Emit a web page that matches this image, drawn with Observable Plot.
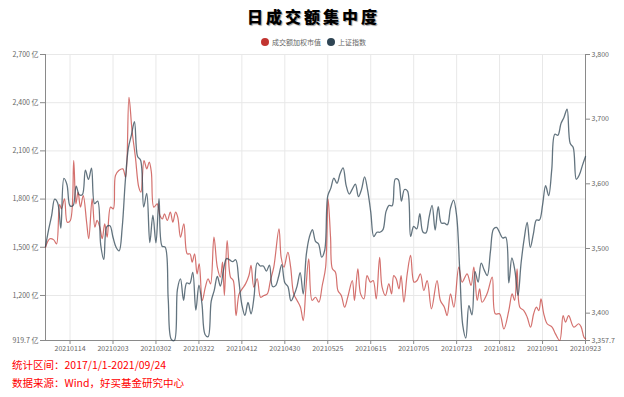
<!DOCTYPE html>
<html><head><meta charset="utf-8">
<script src="https://cdn.jsdelivr.net/npm/d3@7"></script>
<script src="https://cdn.jsdelivr.net/npm/@observablehq/plot@0.6"></script>
<style>
body{margin:0;background:#fff;font-family:"Noto Sans CJK SC","Noto Sans",sans-serif;}
#wrap{position:relative;width:624px;height:397px;overflow:hidden;background:#fff;}
#chart{position:absolute;left:0;top:0;}
#title{position:absolute;left:0;width:624px;top:4px;text-align:center;font-size:16px;font-weight:900;letter-spacing:3px;padding-left:3px;box-sizing:border-box;color:#000;text-shadow:1px 1px 1px #999;line-height:24px;}
.lg{position:absolute;top:37px;font-size:7px;color:#666;line-height:11px;white-space:nowrap;}
.dot{display:inline-block;width:8px;height:8px;border-radius:50%;vertical-align:middle;margin-right:3px;position:relative;top:-1px;}
.foot{position:absolute;left:12px;font-size:10.5px;color:#f00;white-space:nowrap;line-height:14px;}
</style></head>
<body>
<div id="wrap">
  <div id="chart"></div>
  <div id="title"></div>
  <div id="lg1" class="lg" style="left:261px"></div>
  <div id="lg2" class="lg" style="left:327px"></div>
  <div class="foot" id="f1" style="top:358px"></div>
  <div class="foot" id="f2" style="top:376px"></div>
</div>
<script>
// ---- data ----
const titleText = "日成交额集中度";
const seriesNames = ["成交额加权市值", "上证指数"];
const seriesColors = ["#c23531", "#2f4554"];
const footLines = ["统计区间：2017/1/1-2021/09/24", "数据来源：Wind，好买基金研究中心"];

// x tick labels (trading-day index positions on the category axis)
const xTickPos = [8, 22, 36, 50, 64, 78, 92, 106, 120, 134, 148, 162, 176];
const xTickLabels = ["20210114","20210203","20210302","20210322","20210412","20210430","20210525","20210615","20210705","20210723","20210812","20210901","20210923"];

// left axis (亿) and right axis (index points)
const leftTicks = [919.7, 1200, 1500, 1800, 2100, 2400, 2700];
const rightTicks = [3357.7, 3400, 3500, 3600, 3700, 3800];

// 上证指数 daily closes (trading-day index 0 = 20210104)
const shIndex = [
3502.96,3528.68,3550.88,3576.20,3570.11,3531.50,3608.34,3598.65,3565.90,3566.38,3596.22,3583.09,3583.09,3621.26,3606.75,3624.24,3569.43,3573.34,3505.18,3483.07,
3533.68,3535.09,3517.31,3501.86,3496.33,3532.44,3603.49,3655.09,3675.36,3696.17,3642.44,3636.36,3564.08,3585.05,3509.08,
3551.40,3508.59,3576.90,3503.49,3501.99,3421.41,3359.29,3357.74,3436.83,3453.08,3419.95,3446.73,3445.55,3463.07,3404.66,3443.44,3414.01,3367.06,3363.59,3418.33,3435.30,3456.68,3441.91,
3466.33,3484.39,3482.48,3479.63,3482.55,3450.68,3412.95,3396.47,3416.50,3398.99,3426.62,3477.55,3472.94,3472.94,3465.11,3474.17,3441.17,3442.61,3457.07,3474.90,3446.86,
3441.28,3418.87,3427.99,3441.85,3462.75,3429.54,3490.38,3517.62,3529.01,3510.96,3506.94,3486.56,3497.28,3581.34,3593.36,3608.85,3600.78,3615.48,
3624.71,3597.14,3584.22,3591.84,3599.54,3580.11,3591.40,3610.86,3589.75,3556.56,3518.33,3525.10,3525.10,3529.18,3557.41,3566.65,3566.22,3607.56,3606.37,3573.18,3591.20,
3588.78,3518.76,3534.32,3530.26,3553.72,3525.50,3524.09,3547.84,3566.59,3528.50,3564.59,3539.30,3539.12,3536.79,3562.50,3574.73,3550.40,3467.44,3381.18,3361.59,3411.72,3397.36,
3464.29,3447.99,3477.22,3466.56,3458.23,3494.63,3529.93,3532.62,3524.74,3516.30,3517.35,3446.98,3485.29,3465.55,3427.33,3477.13,3514.47,3540.38,3501.66,3522.16,3543.94,3543.94,
3567.10,3597.04,3581.73,3621.86,3676.59,3675.19,3693.13,3703.11,3715.37,3662.60,3656.22,3607.09,3613.97,3628.49,3642.22
];

// 成交额加权市值 (亿): read-off points, position on trading-day axis and value
const wcapPos = [0,1.4,2.7,3.6,4.6,5.2,6.2,7.1,8.1,9.2,9.9,10.6,11.4,12.3,13.4,14.1,15.2,16.1,16.8,17.7,18.5,19.3,20.1,21.2,22.1,22.8,23.9,25.2,26.1,27.2,28.2,29.3,30.4,31.1,32.1,33,33.8,34.5,35.3,36.4,37.3,38.1,38.8,39.7,40.7,41.5,42.4,43.1,44,45.1,46.2,47.1,47.8,48.6,49.4,50.1,51.1,52.1,53,53.8,54.9,56,57,57.7,58.3,59.2,60.3,61.2,62.1,63.1,64.1,65.2,66.3,67,67.9,69,70.1,71.2,72.3,73.3,74.4,76.1,76.8,77.7,79,79.9,80.9,82,83.1,84,84.9,85.8,86.9,88,89.1,90.2,91.3,92.1,92.9,93.5,94.5,95.3,96.4,97.5,98.5,100,100.7,101.8,102.7,103.8,104.8,105.9,106.8,107.8,108.9,109.7,110.8,111.9,112.8,113.5,114.3,115.2,115.9,116.8,117.9,119,120.1,121.1,122.2,123.3,124.4,125.8,127.6,128.7,130,130.9,132,133.1,134.7,135.8,137.4,138.7,139.6,140.7,141.5,142.3,143.9,145.6,146.6,148,149.4,151,152.1,152.9,153.7,154.6,155.9,157,158.1,159.1,160,160.8,161.5,162.4,163.5,165.1,166.2,167.6,168.7,169.5,170.5,172.2,173.8,174.6,175.5,176];
const wcapVal = [1500,1553,1546,1521,1766,1739,1802,1656,1667,2040,1770,1843,1750,1822,1656,1553,1802,1625,1667,1625,1553,1646,1563,1750,1739,1947,1978,1988,1936,2434,2227,2061,1874,1843,2040,1988,2030,1968,1750,1770,1698,1677,1708,1667,1719,1656,1719,1688,1563,1646,1459,1459,1407,1459,1335,1397,1169,1252,1304,1272,1563,1376,1314,1407,1200,1542,1314,1293,1075,1210,1241,1272,1324,1387,1252,1304,1189,1200,1210,1293,1376,1615,1438,1376,1469,1376,1210,1169,1127,1044,1252,1428,1169,1189,1158,1262,1376,1802,1563,1366,1345,1231,1200,1127,1189,1293,1169,1366,1210,1179,1324,1283,1293,1179,1438,1252,1200,1272,1210,1324,1304,1241,1324,1158,1335,1449,1283,1293,1335,1231,1293,1117,1293,1169,1127,1075,1210,1127,1376,1283,1335,1262,1376,1169,1241,1158,1210,1314,1086,1086,992,1106,1210,1169,1366,1127,1106,1065,1003,1086,1127,1106,1179,1086,1024,1003,961,919.7,1075,1034,1075,1003,1024,1003,940,930];

// ---- scales mapping for the dual axis ----
const L0 = leftTicks[0], L1 = leftTicks[leftTicks.length-1];
const R0 = rightTicks[0], R1 = rightTicks[rightTicks.length-1];
const toLeft = v => L0 + (v - R0) * (L1 - L0) / (R1 - R0);
const fmt = d3.format(",");
const rightMapped = rightTicks.map(toLeft);
const rightLabel = new Map(rightMapped.map((m,i)=>[m, fmt(rightTicks[i])]));
const xLabel = new Map(xTickPos.map((p,i)=>[p, xTickLabels[i]]));

const shData = shIndex.map((v,i)=>({x:i, y:toLeft(v)}));
const wcData = wcapPos.map((p,i)=>({x:p, y:wcapVal[i]}));

const axisColor = "#8a8a8a";
const chart = Plot.plot({
  width: 624, height: 397,
  marginTop: 54, marginBottom: 57, marginLeft: 45, marginRight: 39,
  x: {domain: [0, 176], axis: null, label: null},
  y: {domain: [L0, L1], axis: null, label: null},
  style: {fontFamily: '"Noto Sans CJK SC","Noto Sans",sans-serif', fontSize: "7px", color: "#666", background: "transparent"},
  marks: [
    Plot.gridY(leftTicks, {stroke: "#e8e8e8", strokeOpacity: 1}),
    Plot.gridX(xTickPos, {stroke: "#e8e8e8", strokeOpacity: 1}),
    Plot.axisY(leftTicks, {anchor: "left", label: null, tickSize: 5, tickPadding: 2, stroke: axisColor, fill: "#666", tickFormat: d => fmt(d) + " 亿"}),
    Plot.axisY(rightMapped, {anchor: "right", label: null, tickSize: 4, tickPadding: 2, stroke: axisColor, fill: "#666", tickFormat: d => rightLabel.get(d)}),
    Plot.axisX(xTickPos, {anchor: "bottom", label: null, tickSize: 4, tickPadding: 2, stroke: axisColor, fill: "#666", tickFormat: d => xLabel.get(d)}),
    Plot.ruleX([0, 176], {stroke: axisColor, strokeWidth: 1}),
    Plot.ruleY([L0], {stroke: axisColor, strokeWidth: 1}),
    Plot.line(wcData, {x: "x", y: "y", stroke: seriesColors[0], strokeOpacity: 0.7, strokeWidth: 1.2, curve: "catmull-rom"}),
    Plot.line(shData, {x: "x", y: "y", stroke: seriesColors[1], strokeOpacity: 0.75, strokeWidth: 1.3, curve: "catmull-rom"})
  ]
});
document.getElementById("chart").appendChild(chart);
document.getElementById("title").textContent = titleText;
document.getElementById("lg1").innerHTML = `<span class="dot" style="background:${seriesColors[0]}"></span>${seriesNames[0]}`;
document.getElementById("lg2").innerHTML = `<span class="dot" style="background:${seriesColors[1]}"></span>${seriesNames[1]}`;
document.getElementById("f1").textContent = footLines[0];
document.getElementById("f2").textContent = footLines[1];
</script>
</body></html>
